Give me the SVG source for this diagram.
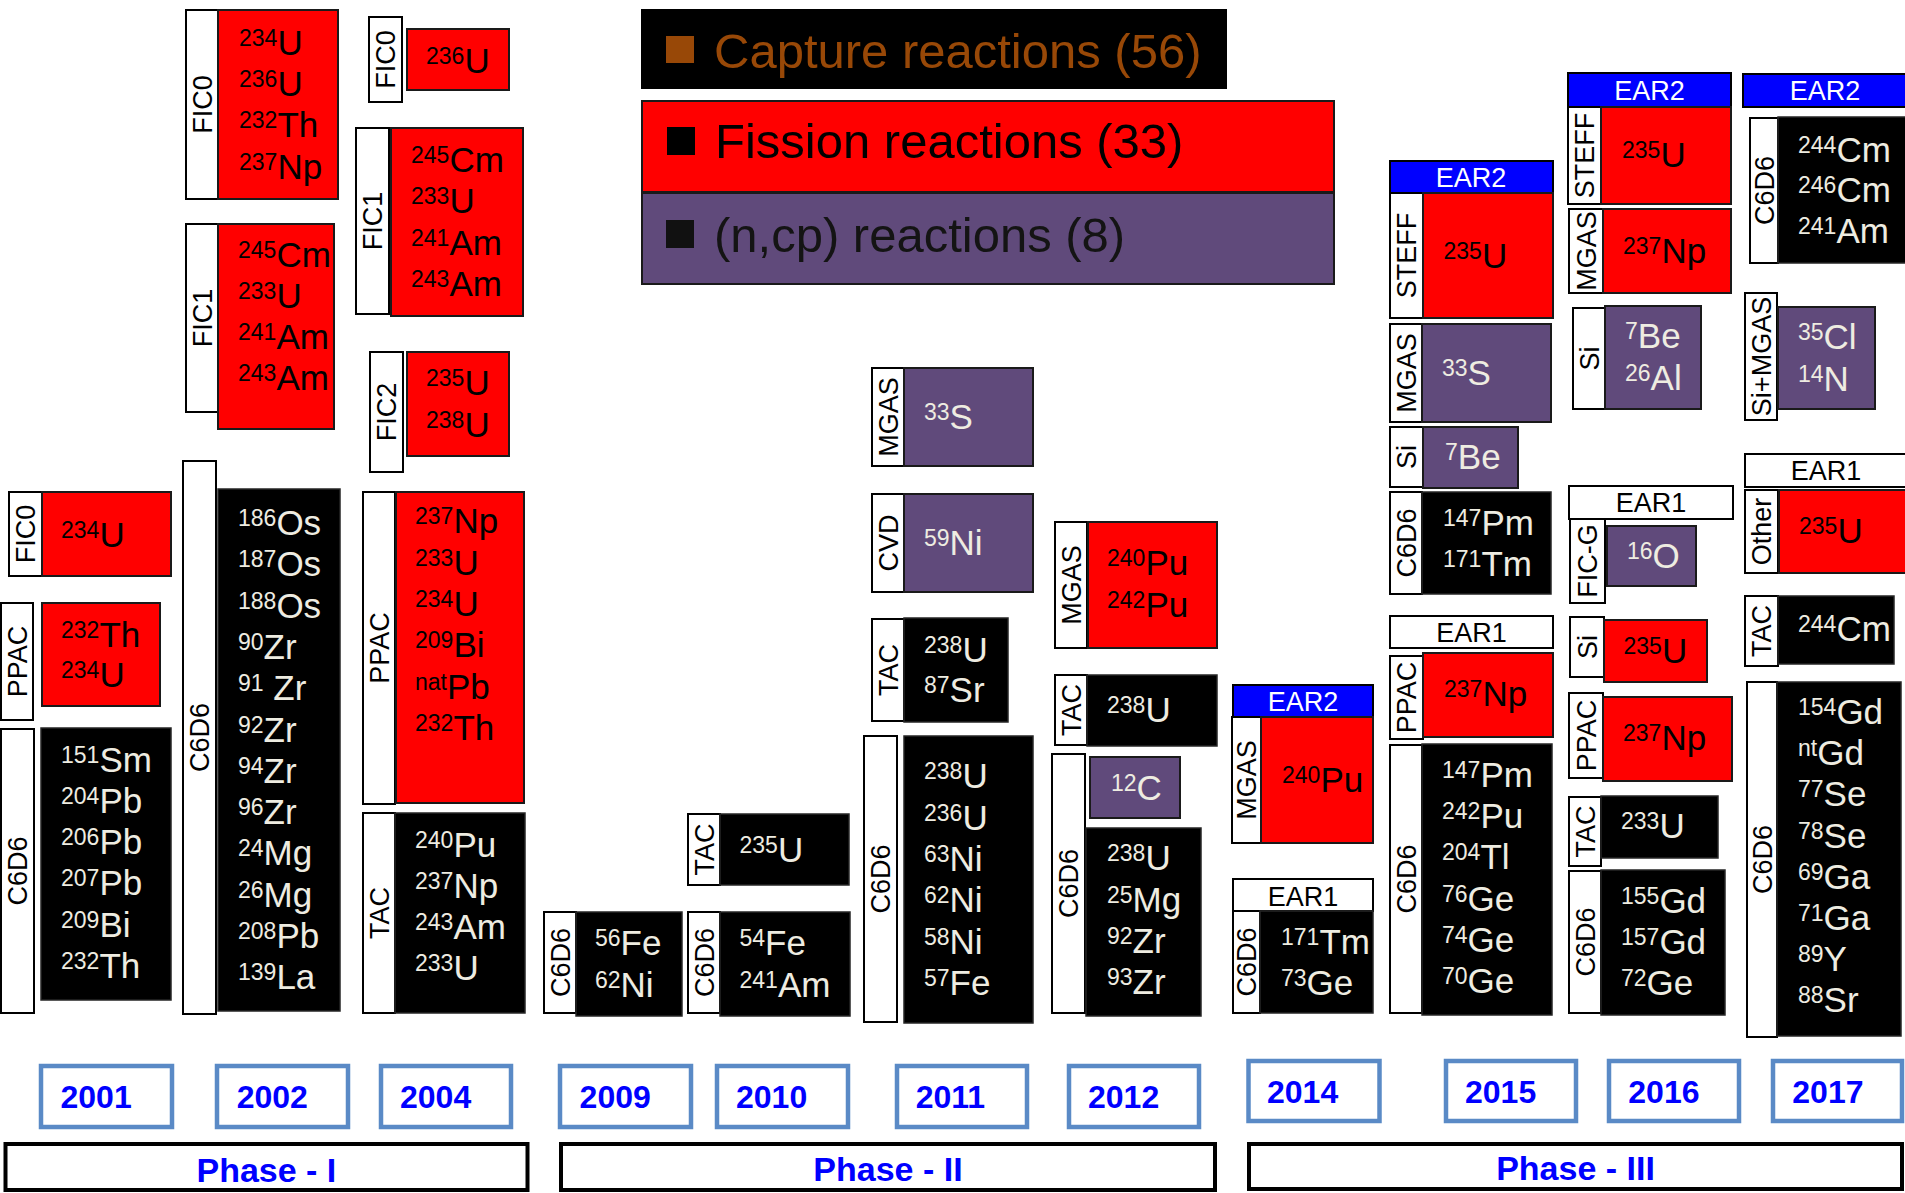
<svg xmlns="http://www.w3.org/2000/svg" width="1905" height="1193" viewBox="0 0 1905 1193">
<style>
text{font-family:"Liberation Sans",Arial,sans-serif}
.lb{fill:#fff;stroke:#000;stroke-width:2}
.r{fill:#f00;stroke:#1a1a1a;stroke-width:2}
.b{fill:#000;stroke:#262626;stroke-width:1.5}
.p{fill:#604a7b;stroke:#1a1a1a;stroke-width:2}
.e2{fill:#0000ff;stroke:#000;stroke-width:2}
.e1{fill:#fff;stroke:#000;stroke-width:2}
.lt{font-size:27px;fill:#000;text-anchor:middle}
.et{font-size:27px;fill:#000;text-anchor:middle}
.e2t{fill:#fff}
.i{font-size:35px;fill:#000}
.w{fill:#eeece1}
.s{font-size:23px}
.yb{fill:#fff;stroke:#5a8ac6;stroke-width:4.5}
.yt{font-size:32px;font-weight:bold;fill:#0000ff}
.pb{fill:#fff;stroke:#000;stroke-width:4}
.pt{font-size:34px;font-weight:bold;fill:#0000ff;text-anchor:middle}
.lg{font-size:49px}
</style>
<rect width="1905" height="1193" fill="#fff"/>

<g id="legend">
<g id="legend-capture">
<rect x="641" y="9" width="586" height="80" fill="#000"/>
<rect x="666" y="36" width="28" height="27" fill="#984807"/>
<text class="lg" x="714" y="68" fill="#984807">Capture reactions (56)</text>
</g>
<g id="legend-fission">
<rect x="642" y="101" width="692" height="91" class="r"/>
<rect x="667" y="127" width="28" height="28" fill="#000"/>
<text class="lg" x="715" y="158" fill="#000">Fission reactions (33)</text>
</g>
<g id="legend-ncp">
<rect x="642" y="193" width="692" height="91" class="p"/>
<rect x="666" y="220" width="28" height="28" fill="#111"/>
<text class="lg" x="714" y="252" fill="#141414">(n,cp) reactions (8)</text>
</g>
</g>

<g id="connectors"/>

<!-- 2001 -->
<g id="n2001-fic0">
<rect class="lb" x="9" y="492" width="33" height="84"/>
<text class="lt" transform="translate(25.5,534) rotate(-90)" y="9.7">FIC0</text>
<rect class="r" x="42" y="492" width="129" height="84"/>
<text class="i" x="61" y="547"><tspan class="s" dy="-9">234</tspan><tspan dy="9">U</tspan></text>
</g>
<g id="n2001-ppac">
<rect class="lb" x="1" y="603" width="32" height="117"/>
<text class="lt" transform="translate(17,661.5) rotate(-90)" y="9.7">PPAC</text>
<rect class="r" x="42" y="603" width="118" height="103"/>
<text class="i" x="61" y="647"><tspan class="s" dy="-9">232</tspan><tspan dy="9">Th</tspan></text>
<text class="i" x="61" y="687"><tspan class="s" dy="-9">234</tspan><tspan dy="9">U</tspan></text>
</g>
<g id="n2001-c6d6">
<rect class="lb" x="1" y="729" width="33" height="284"/>
<text class="lt" transform="translate(17.5,871) rotate(-90)" y="9.7">C6D6</text>
<rect class="b" x="41" y="728" width="130" height="272"/>
<text class="i w" x="61" y="771.7"><tspan class="s" dy="-9">151</tspan><tspan dy="9">Sm</tspan></text>
<text class="i w" x="61" y="812.9"><tspan class="s" dy="-9">204</tspan><tspan dy="9">Pb</tspan></text>
<text class="i w" x="61" y="854.1"><tspan class="s" dy="-9">206</tspan><tspan dy="9">Pb</tspan></text>
<text class="i w" x="61" y="895.3"><tspan class="s" dy="-9">207</tspan><tspan dy="9">Pb</tspan></text>
<text class="i w" x="61" y="936.5"><tspan class="s" dy="-9">209</tspan><tspan dy="9">Bi</tspan></text>
<text class="i w" x="61" y="977.7"><tspan class="s" dy="-9">232</tspan><tspan dy="9">Th</tspan></text>
</g>

<!-- 2002 -->
<g id="n2002-fic0">
<rect class="lb" x="186" y="10" width="32" height="189"/>
<text class="lt" transform="translate(202,104.5) rotate(-90)" y="9.7">FIC0</text>
<rect class="r" x="218" y="10" width="120" height="189"/>
<text class="i" x="239" y="55"><tspan class="s" dy="-9">234</tspan><tspan dy="9">U</tspan></text>
<text class="i" x="239" y="96.2"><tspan class="s" dy="-9">236</tspan><tspan dy="9">U</tspan></text>
<text class="i" x="239" y="137.4"><tspan class="s" dy="-9">232</tspan><tspan dy="9">Th</tspan></text>
<text class="i" x="239" y="178.6"><tspan class="s" dy="-9">237</tspan><tspan dy="9">Np</tspan></text>
</g>
<g id="n2002-fic1">
<rect class="lb" x="186" y="224" width="32" height="188"/>
<text class="lt" transform="translate(202,318) rotate(-90)" y="9.7">FIC1</text>
<rect class="r" x="218" y="224" width="116" height="205"/>
<text class="i" x="238" y="266.7"><tspan class="s" dy="-9">245</tspan><tspan dy="9">Cm</tspan></text>
<text class="i" x="238" y="308"><tspan class="s" dy="-9">233</tspan><tspan dy="9">U</tspan></text>
<text class="i" x="238" y="349"><tspan class="s" dy="-9">241</tspan><tspan dy="9">Am</tspan></text>
<text class="i" x="238" y="390"><tspan class="s" dy="-9">243</tspan><tspan dy="9">Am</tspan></text>
</g>
<g id="n2002-c6d6">
<rect class="lb" x="183" y="461" width="33" height="553"/>
<text class="lt" transform="translate(199.5,737.5) rotate(-90)" y="9.7">C6D6</text>
<rect class="b" x="218" y="489" width="122" height="522"/>
<text class="i w" x="238" y="535"><tspan class="s" dy="-9">186</tspan><tspan dy="9">Os</tspan></text>
<text class="i w" x="238" y="576.3"><tspan class="s" dy="-9">187</tspan><tspan dy="9">Os</tspan></text>
<text class="i w" x="238" y="617.6"><tspan class="s" dy="-9">188</tspan><tspan dy="9">Os</tspan></text>
<text class="i w" x="238" y="658.9"><tspan class="s" dy="-9">90</tspan><tspan dy="9">Zr</tspan></text>
<text class="i w" x="238" y="700.2"><tspan class="s" dy="-9">91</tspan><tspan dy="9"> Zr</tspan></text>
<text class="i w" x="238" y="741.5"><tspan class="s" dy="-9">92</tspan><tspan dy="9">Zr</tspan></text>
<text class="i w" x="238" y="782.8"><tspan class="s" dy="-9">94</tspan><tspan dy="9">Zr</tspan></text>
<text class="i w" x="238" y="824.1"><tspan class="s" dy="-9">96</tspan><tspan dy="9">Zr</tspan></text>
<text class="i w" x="238" y="865.4"><tspan class="s" dy="-9">24</tspan><tspan dy="9">Mg</tspan></text>
<text class="i w" x="238" y="906.7"><tspan class="s" dy="-9">26</tspan><tspan dy="9">Mg</tspan></text>
<text class="i w" x="238" y="948"><tspan class="s" dy="-9">208</tspan><tspan dy="9">Pb</tspan></text>
<text class="i w" x="238" y="989.3"><tspan class="s" dy="-9">139</tspan><tspan dy="9">La</tspan></text>
</g>

<!-- 2004 -->
<g id="n2004-fic0">
<rect class="lb" x="369" y="17" width="33" height="85"/>
<text class="lt" transform="translate(385.5,59.5) rotate(-90)" y="9.7">FIC0</text>
<rect class="r" x="407" y="29" width="102" height="61"/>
<text class="i" x="426" y="72.7"><tspan class="s" dy="-9">236</tspan><tspan dy="9">U</tspan></text>
</g>
<g id="n2004-fic1">
<rect class="lb" x="356" y="128" width="33" height="186"/>
<text class="lt" transform="translate(372.5,221) rotate(-90)" y="9.7">FIC1</text>
<rect class="r" x="391" y="128" width="132" height="188"/>
<text class="i" x="411" y="171.7"><tspan class="s" dy="-9">245</tspan><tspan dy="9">Cm</tspan></text>
<text class="i" x="411" y="213"><tspan class="s" dy="-9">233</tspan><tspan dy="9">U</tspan></text>
<text class="i" x="411" y="254.5"><tspan class="s" dy="-9">241</tspan><tspan dy="9">Am</tspan></text>
<text class="i" x="411" y="296"><tspan class="s" dy="-9">243</tspan><tspan dy="9">Am</tspan></text>
</g>
<g id="n2004-fic2">
<rect class="lb" x="370" y="352" width="33" height="120"/>
<text class="lt" transform="translate(386.5,412) rotate(-90)" y="9.7">FIC2</text>
<rect class="r" x="407" y="352" width="102" height="104"/>
<text class="i" x="426" y="395"><tspan class="s" dy="-9">235</tspan><tspan dy="9">U</tspan></text>
<text class="i" x="426" y="436.5"><tspan class="s" dy="-9">238</tspan><tspan dy="9">U</tspan></text>
</g>
<g id="n2004-ppac">
<rect class="lb" x="363" y="492" width="32" height="312"/>
<text class="lt" transform="translate(379,648) rotate(-90)" y="9.7">PPAC</text>
<rect class="r" x="396" y="492" width="128" height="311"/>
<text class="i" x="415" y="533.3"><tspan class="s" dy="-9">237</tspan><tspan dy="9">Np</tspan></text>
<text class="i" x="415" y="574.6"><tspan class="s" dy="-9">233</tspan><tspan dy="9">U</tspan></text>
<text class="i" x="415" y="615.9"><tspan class="s" dy="-9">234</tspan><tspan dy="9">U</tspan></text>
<text class="i" x="415" y="657.2"><tspan class="s" dy="-9">209</tspan><tspan dy="9">Bi</tspan></text>
<text class="i" x="415" y="698.5"><tspan class="s" dy="-9">nat</tspan><tspan dy="9">Pb</tspan></text>
<text class="i" x="415" y="739.8"><tspan class="s" dy="-9">232</tspan><tspan dy="9">Th</tspan></text>
</g>
<g id="n2004-tac">
<rect class="lb" x="363" y="813" width="32" height="200"/>
<text class="lt" transform="translate(379,913) rotate(-90)" y="9.7">TAC</text>
<rect class="b" x="395" y="813" width="130" height="200"/>
<text class="i w" x="415" y="856.7"><tspan class="s" dy="-9">240</tspan><tspan dy="9">Pu</tspan></text>
<text class="i w" x="415" y="897.7"><tspan class="s" dy="-9">237</tspan><tspan dy="9">Np</tspan></text>
<text class="i w" x="415" y="938.7"><tspan class="s" dy="-9">243</tspan><tspan dy="9">Am</tspan></text>
<text class="i w" x="415" y="980"><tspan class="s" dy="-9">233</tspan><tspan dy="9">U</tspan></text>
</g>

<!-- 2009 / 2010 -->
<g id="n2009-c6d6">
<rect class="lb" x="544" y="912" width="32" height="101"/>
<text class="lt" transform="translate(560,962.5) rotate(-90)" y="9.7">C6D6</text>
<rect class="b" x="576" y="912" width="106" height="104"/>
<text class="i w" x="595" y="955"><tspan class="s" dy="-9">56</tspan><tspan dy="9">Fe</tspan></text>
<text class="i w" x="595" y="996.7"><tspan class="s" dy="-9">62</tspan><tspan dy="9">Ni</tspan></text>
</g>
<g id="n2010-tac">
<rect class="lb" x="688" y="814" width="32" height="71"/>
<text class="lt" transform="translate(704,849.5) rotate(-90)" y="9.7">TAC</text>
<rect class="b" x="720" y="814" width="129" height="71"/>
<text class="i w" x="739.5" y="861.7"><tspan class="s" dy="-9">235</tspan><tspan dy="9">U</tspan></text>
</g>
<g id="n2010-c6d6">
<rect class="lb" x="688" y="912" width="32" height="101"/>
<text class="lt" transform="translate(704,962.5) rotate(-90)" y="9.7">C6D6</text>
<rect class="b" x="720" y="912" width="130" height="104"/>
<text class="i w" x="739.5" y="955"><tspan class="s" dy="-9">54</tspan><tspan dy="9">Fe</tspan></text>
<text class="i w" x="739.5" y="996.7"><tspan class="s" dy="-9">241</tspan><tspan dy="9">Am</tspan></text>
</g>

<!-- 2011 -->
<g id="n2011-mgas">
<rect class="lb" x="872" y="368" width="32" height="98"/>
<text class="lt" transform="translate(888,417) rotate(-90)" y="9.7">MGAS</text>
<rect class="p" x="904" y="368" width="129" height="98"/>
<text class="i w" x="924" y="429.3"><tspan class="s" dy="-9">33</tspan><tspan dy="9">S</tspan></text>
</g>
<g id="n2011-cvd">
<rect class="lb" x="872" y="494" width="32" height="98"/>
<text class="lt" transform="translate(888,543) rotate(-90)" y="9.7">CVD</text>
<rect class="p" x="904" y="494" width="129" height="98"/>
<text class="i w" x="924" y="555"><tspan class="s" dy="-9">59</tspan><tspan dy="9">Ni</tspan></text>
</g>
<g id="n2011-tac">
<rect class="lb" x="872" y="619" width="32" height="102"/>
<text class="lt" transform="translate(888,670) rotate(-90)" y="9.7">TAC</text>
<rect class="b" x="904" y="618" width="104" height="104"/>
<text class="i w" x="924" y="661.7"><tspan class="s" dy="-9">238</tspan><tspan dy="9">U</tspan></text>
<text class="i w" x="924" y="701.7"><tspan class="s" dy="-9">87</tspan><tspan dy="9">Sr</tspan></text>
</g>
<g id="n2011-c6d6">
<rect class="lb" x="864" y="736" width="33" height="286"/>
<text class="lt" transform="translate(880.5,879) rotate(-90)" y="9.7">C6D6</text>
<rect class="b" x="904" y="736" width="129" height="287"/>
<text class="i w" x="924" y="788.3"><tspan class="s" dy="-9">238</tspan><tspan dy="9">U</tspan></text>
<text class="i w" x="924" y="829.6"><tspan class="s" dy="-9">236</tspan><tspan dy="9">U</tspan></text>
<text class="i w" x="924" y="870.9"><tspan class="s" dy="-9">63</tspan><tspan dy="9">Ni</tspan></text>
<text class="i w" x="924" y="912.2"><tspan class="s" dy="-9">62</tspan><tspan dy="9">Ni</tspan></text>
<text class="i w" x="924" y="953.5"><tspan class="s" dy="-9">58</tspan><tspan dy="9">Ni</tspan></text>
<text class="i w" x="924" y="994.8"><tspan class="s" dy="-9">57</tspan><tspan dy="9">Fe</tspan></text>
</g>

<!-- 2012 -->
<g id="n2012-mgas">
<rect class="lb" x="1055" y="522" width="32" height="126"/>
<text class="lt" transform="translate(1071,585) rotate(-90)" y="9.7">MGAS</text>
<rect class="r" x="1088" y="522" width="129" height="126"/>
<text class="i" x="1107" y="575"><tspan class="s" dy="-9">240</tspan><tspan dy="9">Pu</tspan></text>
<text class="i" x="1107" y="617.3"><tspan class="s" dy="-9">242</tspan><tspan dy="9">Pu</tspan></text>
</g>
<g id="n2012-tac">
<rect class="lb" x="1055" y="675" width="32" height="70"/>
<text class="lt" transform="translate(1071,710) rotate(-90)" y="9.7">TAC</text>
<rect class="b" x="1087" y="675" width="130" height="71"/>
<text class="i w" x="1107" y="722.3"><tspan class="s" dy="-9">238</tspan><tspan dy="9">U</tspan></text>
</g>
<g id="n2012-c6d6">
<rect class="lb" x="1052" y="754" width="33" height="259"/>
<text class="lt" transform="translate(1068.5,883.5) rotate(-90)" y="9.7">C6D6</text>
<rect class="p" x="1090" y="757" width="90" height="61"/>
<text class="i w" x="1111" y="800"><tspan class="s" dy="-9">12</tspan><tspan dy="9">C</tspan></text>
<rect class="b" x="1086" y="828" width="115" height="188"/>
<text class="i w" x="1107" y="870"><tspan class="s" dy="-9">238</tspan><tspan dy="9">U</tspan></text>
<text class="i w" x="1107" y="911.7"><tspan class="s" dy="-9">25</tspan><tspan dy="9">Mg</tspan></text>
<text class="i w" x="1107" y="953.3"><tspan class="s" dy="-9">92</tspan><tspan dy="9">Zr</tspan></text>
<text class="i w" x="1107" y="994.3"><tspan class="s" dy="-9">93</tspan><tspan dy="9">Zr</tspan></text>
</g>

<!-- 2014 -->
<g id="n2014-ear2">
<rect class="e2" x="1233" y="685" width="140" height="32"/>
<text class="et e2t" x="1303" y="710.7">EAR2</text>
</g>
<g id="n2014-mgas">
<rect class="lb" x="1232" y="717" width="29" height="126"/>
<text class="lt" transform="translate(1246.5,780) rotate(-90)" y="9.7">MGAS</text>
<rect class="r" x="1261" y="717" width="112" height="126"/>
<text class="i" x="1282" y="791.7"><tspan class="s" dy="-9">240</tspan><tspan dy="9">Pu</tspan></text>
</g>
<g id="n2014-ear1">
<rect class="e1" x="1233" y="879" width="140" height="32"/>
<text class="et" x="1303" y="905.5">EAR1</text>
</g>
<g id="n2014-c6d6">
<rect class="lb" x="1233" y="911" width="27" height="102"/>
<text class="lt" transform="translate(1246.5,962) rotate(-90)" y="9.7">C6D6</text>
<rect class="b" x="1260" y="911" width="113" height="102"/>
<text class="i w" x="1281" y="954"><tspan class="s" dy="-9">171</tspan><tspan dy="9">Tm</tspan></text>
<text class="i w" x="1281" y="995"><tspan class="s" dy="-9">73</tspan><tspan dy="9">Ge</tspan></text>
</g>

<!-- 2015 -->
<g id="n2015-ear2">
<rect class="e2" x="1390" y="161" width="163" height="32"/>
<text class="et e2t" x="1471" y="186.7">EAR2</text>
</g>
<g id="n2015-steff">
<rect class="lb" x="1390" y="193" width="33" height="125"/>
<text class="lt" transform="translate(1406.5,255.5) rotate(-90)" y="9.7">STEFF</text>
<rect class="r" x="1423" y="193" width="130" height="125"/>
<text class="i" x="1443.5" y="268.3"><tspan class="s" dy="-9">235</tspan><tspan dy="9">U</tspan></text>
</g>
<g id="n2015-mgas">
<rect class="lb" x="1390" y="324" width="32" height="98"/>
<text class="lt" transform="translate(1406,373) rotate(-90)" y="9.7">MGAS</text>
<rect class="p" x="1422" y="324" width="129" height="98"/>
<text class="i w" x="1442" y="385"><tspan class="s" dy="-9">33</tspan><tspan dy="9">S</tspan></text>
</g>
<g id="n2015-si">
<rect class="lb" x="1390" y="427" width="33" height="60"/>
<text class="lt" transform="translate(1406.5,457) rotate(-90)" y="9.7">Si</text>
<rect class="p" x="1423" y="427" width="95" height="61"/>
<text class="i w" x="1445" y="469.3"><tspan class="s" dy="-9">7</tspan><tspan dy="9">Be</tspan></text>
</g>
<g id="n2015-c6d6-a">
<rect class="lb" x="1390" y="492" width="32" height="102"/>
<text class="lt" transform="translate(1406,543) rotate(-90)" y="9.7">C6D6</text>
<rect class="b" x="1422" y="492" width="129" height="102"/>
<text class="i w" x="1443" y="535"><tspan class="s" dy="-9">147</tspan><tspan dy="9">Pm</tspan></text>
<text class="i w" x="1443" y="575.7"><tspan class="s" dy="-9">171</tspan><tspan dy="9">Tm</tspan></text>
</g>
<g id="n2015-ear1">
<rect class="e1" x="1390" y="616" width="163" height="32"/>
<text class="et" x="1471.5" y="641.7">EAR1</text>
</g>
<g id="n2015-ppac">
<rect class="lb" x="1390" y="656" width="33" height="83"/>
<text class="lt" transform="translate(1406.5,697.5) rotate(-90)" y="9.7">PPAC</text>
<rect class="r" x="1423" y="653" width="130" height="84"/>
<text class="i" x="1444" y="706"><tspan class="s" dy="-9">237</tspan><tspan dy="9">Np</tspan></text>
</g>
<g id="n2015-c6d6-b">
<rect class="lb" x="1390" y="745" width="32" height="268"/>
<text class="lt" transform="translate(1406,879) rotate(-90)" y="9.7">C6D6</text>
<rect class="b" x="1422" y="744" width="130" height="271"/>
<text class="i w" x="1442" y="786.7"><tspan class="s" dy="-9">147</tspan><tspan dy="9">Pm</tspan></text>
<text class="i w" x="1442" y="828"><tspan class="s" dy="-9">242</tspan><tspan dy="9">Pu</tspan></text>
<text class="i w" x="1442" y="869.3"><tspan class="s" dy="-9">204</tspan><tspan dy="9">Tl</tspan></text>
<text class="i w" x="1442" y="910.6"><tspan class="s" dy="-9">76</tspan><tspan dy="9">Ge</tspan></text>
<text class="i w" x="1442" y="951.9"><tspan class="s" dy="-9">74</tspan><tspan dy="9">Ge</tspan></text>
<text class="i w" x="1442" y="993.2"><tspan class="s" dy="-9">70</tspan><tspan dy="9">Ge</tspan></text>
</g>

<!-- 2016 -->
<g id="n2016-ear2">
<rect class="e2" x="1568" y="73" width="163" height="34"/>
<text class="et e2t" x="1649.5" y="99.5">EAR2</text>
</g>
<g id="n2016-steff">
<rect class="lb" x="1568" y="107" width="33" height="97"/>
<text class="lt" transform="translate(1584.5,155.5) rotate(-90)" y="9.7">STEFF</text>
<rect class="r" x="1601" y="107" width="130" height="97"/>
<text class="i" x="1622" y="166.7"><tspan class="s" dy="-9">235</tspan><tspan dy="9">U</tspan></text>
</g>
<g id="n2016-mgas">
<rect class="lb" x="1569" y="209" width="34" height="84"/>
<text class="lt" transform="translate(1586,251) rotate(-90)" y="9.7">MGAS</text>
<rect class="r" x="1603" y="209" width="128" height="84"/>
<text class="i" x="1623" y="262.7"><tspan class="s" dy="-9">237</tspan><tspan dy="9">Np</tspan></text>
</g>
<g id="n2016-si">
<rect class="lb" x="1573" y="308" width="32" height="101"/>
<text class="lt" transform="translate(1589,358.5) rotate(-90)" y="9.7">Si</text>
<rect class="p" x="1605" y="306" width="96" height="103"/>
<text class="i w" x="1625" y="348.3"><tspan class="s" dy="-9">7</tspan><tspan dy="9">Be</tspan></text>
<text class="i w" x="1625" y="390"><tspan class="s" dy="-9">26</tspan><tspan dy="9">Al</tspan></text>
</g>
<g id="n2016-ear1">
<rect class="e1" x="1569" y="486" width="164" height="33"/>
<text class="et" x="1651" y="512.2">EAR1</text>
</g>
<g id="n2016-ficg">
<rect class="lb" x="1570" y="519" width="35" height="84"/>
<text class="lt" transform="translate(1587.5,561) rotate(-90)" y="9.7">FIC-G</text>
<rect class="p" x="1607" y="526" width="89" height="60"/>
<text class="i w" x="1627" y="568.3"><tspan class="s" dy="-9">16</tspan><tspan dy="9">O</tspan></text>
</g>
<g id="n2016-si-b">
<rect class="lb" x="1570" y="617" width="34" height="60"/>
<text class="lt" transform="translate(1587,647) rotate(-90)" y="9.7">Si</text>
<rect class="r" x="1604" y="620" width="103" height="62"/>
<text class="i" x="1623.5" y="663.3"><tspan class="s" dy="-9">235</tspan><tspan dy="9">U</tspan></text>
</g>
<g id="n2016-ppac">
<rect class="lb" x="1569" y="693" width="34" height="85"/>
<text class="lt" transform="translate(1586,735.5) rotate(-90)" y="9.7">PPAC</text>
<rect class="r" x="1603" y="697" width="129" height="84"/>
<text class="i" x="1623" y="750"><tspan class="s" dy="-9">237</tspan><tspan dy="9">Np</tspan></text>
</g>
<g id="n2016-tac">
<rect class="lb" x="1569" y="797" width="32" height="69"/>
<text class="lt" transform="translate(1585,831.5) rotate(-90)" y="9.7">TAC</text>
<rect class="b" x="1601" y="796" width="117" height="62"/>
<text class="i w" x="1621" y="838.3"><tspan class="s" dy="-9">233</tspan><tspan dy="9">U</tspan></text>
</g>
<g id="n2016-c6d6">
<rect class="lb" x="1569" y="871" width="32" height="142"/>
<text class="lt" transform="translate(1585,942) rotate(-90)" y="9.7">C6D6</text>
<rect class="b" x="1601" y="870" width="124" height="145"/>
<text class="i w" x="1621" y="913.3"><tspan class="s" dy="-9">155</tspan><tspan dy="9">Gd</tspan></text>
<text class="i w" x="1621" y="954.3"><tspan class="s" dy="-9">157</tspan><tspan dy="9">Gd</tspan></text>
<text class="i w" x="1621" y="995.3"><tspan class="s" dy="-9">72</tspan><tspan dy="9">Ge</tspan></text>
</g>

<!-- 2017 -->
<g id="n2017-ear2">
<rect class="e2" x="1743" y="74" width="164" height="33"/>
<text class="et e2t" x="1825" y="100">EAR2</text>
</g>
<g id="n2017-c6d6-a">
<rect class="lb" x="1750" y="118" width="28" height="145"/>
<text class="lt" transform="translate(1764,190.5) rotate(-90)" y="9.7">C6D6</text>
<rect class="b" x="1778" y="117" width="128" height="146"/>
<text class="i w" x="1798" y="161.7"><tspan class="s" dy="-9">244</tspan><tspan dy="9">Cm</tspan></text>
<text class="i w" x="1798" y="202.3"><tspan class="s" dy="-9">246</tspan><tspan dy="9">Cm</tspan></text>
<text class="i w" x="1798" y="243.3"><tspan class="s" dy="-9">241</tspan><tspan dy="9">Am</tspan></text>
</g>
<g id="n2017-simgas">
<rect class="lb" x="1745" y="293" width="32" height="127"/>
<text class="lt" transform="translate(1761,356.5) rotate(-90)" y="9.7">Si+MGAS</text>
<rect class="p" x="1778" y="307" width="97" height="102"/>
<text class="i w" x="1798" y="349.3"><tspan class="s" dy="-9">35</tspan><tspan dy="9">Cl</tspan></text>
<text class="i w" x="1798" y="390.7"><tspan class="s" dy="-9">14</tspan><tspan dy="9">N</tspan></text>
</g>
<g id="n2017-ear1">
<rect class="e1" x="1745" y="454" width="162" height="33"/>
<text class="et" x="1826" y="480.2">EAR1</text>
</g>
<g id="n2017-other">
<rect class="lb" x="1745" y="490" width="33" height="83"/>
<text class="lt" transform="translate(1761.5,531.5) rotate(-90)" y="9.7">Other</text>
<rect class="r" x="1779" y="490" width="128" height="83"/>
<text class="i" x="1799" y="543.3"><tspan class="s" dy="-9">235</tspan><tspan dy="9">U</tspan></text>
</g>
<g id="n2017-tac">
<rect class="lb" x="1745" y="596" width="33" height="70"/>
<text class="lt" transform="translate(1761.5,631) rotate(-90)" y="9.7">TAC</text>
<rect class="b" x="1778" y="596" width="116" height="68"/>
<text class="i w" x="1798" y="640.7"><tspan class="s" dy="-9">244</tspan><tspan dy="9">Cm</tspan></text>
</g>
<g id="n2017-c6d6-b">
<rect class="lb" x="1747" y="682" width="30" height="355"/>
<text class="lt" transform="translate(1762,859.5) rotate(-90)" y="9.7">C6D6</text>
<rect class="b" x="1777" y="682" width="124" height="354"/>
<text class="i w" x="1798" y="724"><tspan class="s" dy="-9">154</tspan><tspan dy="9">Gd</tspan></text>
<text class="i w" x="1798" y="765.2"><tspan class="s" dy="-9">nt</tspan><tspan dy="9">Gd</tspan></text>
<text class="i w" x="1798" y="806.4"><tspan class="s" dy="-9">77</tspan><tspan dy="9">Se</tspan></text>
<text class="i w" x="1798" y="847.6"><tspan class="s" dy="-9">78</tspan><tspan dy="9">Se</tspan></text>
<text class="i w" x="1798" y="888.8"><tspan class="s" dy="-9">69</tspan><tspan dy="9">Ga</tspan></text>
<text class="i w" x="1798" y="930"><tspan class="s" dy="-9">71</tspan><tspan dy="9">Ga</tspan></text>
<text class="i w" x="1798" y="971.2"><tspan class="s" dy="-9">89</tspan><tspan dy="9">Y</tspan></text>
<text class="i w" x="1798" y="1012.4"><tspan class="s" dy="-9">88</tspan><tspan dy="9">Sr</tspan></text>
</g>

<!-- years -->
<g id="years">
<g id="y2001"><rect class="yb" x="41" y="1066" width="131" height="61"/><text class="yt" x="60.5" y="1108.3">2001</text></g>
<g id="y2002"><rect class="yb" x="217" y="1066" width="131" height="61"/><text class="yt" x="236.7" y="1108.3">2002</text></g>
<g id="y2004"><rect class="yb" x="381" y="1066" width="130" height="61"/><text class="yt" x="400" y="1108.3">2004</text></g>
<g id="y2009"><rect class="yb" x="560" y="1066" width="131" height="61"/><text class="yt" x="579.6" y="1108.3">2009</text></g>
<g id="y2010"><rect class="yb" x="717" y="1066" width="131" height="61"/><text class="yt" x="736" y="1108.3">2010</text></g>
<g id="y2011"><rect class="yb" x="897" y="1066" width="130" height="61"/><text class="yt" x="915.7" y="1108.3">2011</text></g>
<g id="y2012"><rect class="yb" x="1069" y="1066" width="130" height="61"/><text class="yt" x="1088" y="1108.3">2012</text></g>
<g id="y2014"><rect class="yb" x="1248.5" y="1061" width="131" height="60"/><text class="yt" x="1267" y="1103.3">2014</text></g>
<g id="y2015"><rect class="yb" x="1446" y="1061" width="130" height="60"/><text class="yt" x="1465" y="1103.3">2015</text></g>
<g id="y2016"><rect class="yb" x="1609" y="1061" width="130" height="60"/><text class="yt" x="1628.3" y="1103.3">2016</text></g>
<g id="y2017"><rect class="yb" x="1773" y="1061" width="129" height="60"/><text class="yt" x="1792.3" y="1103.3">2017</text></g>
</g>

<!-- phases -->
<g id="phases">
<g id="phase1"><rect class="pb" x="5.5" y="1144" width="522" height="46"/><text class="pt" x="266.4" y="1181.5">Phase - I</text></g>
<g id="phase2"><rect class="pb" x="561" y="1144" width="654" height="46"/><text class="pt" x="888" y="1180.5">Phase - II</text></g>
<g id="phase3"><rect class="pb" x="1249" y="1144" width="653" height="45"/><text class="pt" x="1575.5" y="1180">Phase - III</text></g>
</g>
</svg>
